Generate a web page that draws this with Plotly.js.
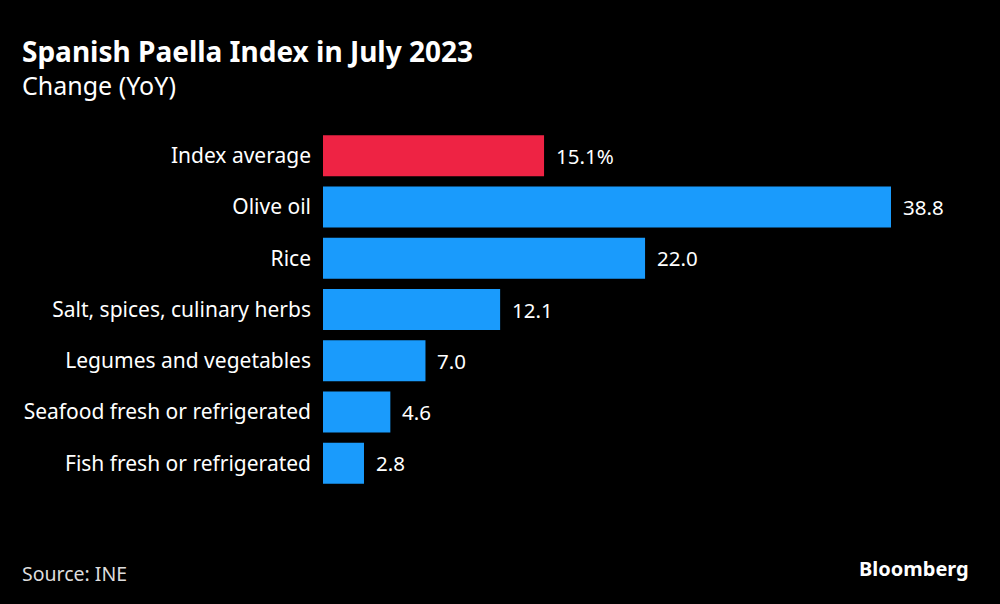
<!DOCTYPE html>
<html>
<head>
<meta charset="utf-8">
<script src="https://cdn.plot.ly/plotly-3.0.1.min.js"></script>
<style>html,body{margin:0;padding:0;background:#000;}#chart{width:1000px;height:604px;}</style>
</head>
<body>
<div id="chart"></div>
<script>
const categories = ["Index average","Olive oil","Rice","Salt, spices, culinary herbs","Legumes and vegetables","Seafood fresh or refrigerated","Fish fresh or refrigerated"];
const values = [15.1, 38.8, 22.0, 12.1, 7.0, 4.6, 2.8];
const valueLabels = ["15.1%","38.8","22.0","12.1","7.0","4.6","2.8"];
const barColors = ["#EE2344","#1A9BFC","#1A9BFC","#1A9BFC","#1A9BFC","#1A9BFC","#1A9BFC"];

const W = 1000, H = 604;
const plotL = 323, plotR = 891, plotT = 130, plotB = 489;
const FONT = "'Noto Sans', 'Open Sans', sans-serif";
const px = x => (x - plotL) / (plotR - plotL);
const py = y => (plotB - y) / (plotB - plotT);

const trace = {
  type: 'bar', orientation: 'h',
  x: values, y: categories,
  marker: {color: barColors, line: {width: 0}},
  hoverinfo: 'skip'
};

const annotations = values.map((v, i) => ({
  x: v, y: categories[i], xref: 'x', yref: 'y',
  text: valueLabels[i], showarrow: false,
  xanchor: 'left', xshift: 10,
  font: {family: FONT, size: 20.5, color: '#FFFFFF'}
}));

annotations.push(
  {xref: 'paper', yref: 'paper', x: px(20), y: py(30), xanchor: 'left', yanchor: 'top', align: 'left',
   text: "<span style='font-size:28px'><b>Spanish Paella Index in July 2023</b></span><br>Change (YoY)",
   showarrow: false,
   font: {family: FONT, size: 25, color: '#FFFFFF'}},
  {xref: 'paper', yref: 'paper', x: px(20), y: py(558), xanchor: 'left', yanchor: 'top',
   text: 'Source: INE', showarrow: false,
   font: {family: FONT, size: 19.5, color: '#DDDDDD'}},
  {xref: 'paper', yref: 'paper', x: px(971), y: py(553), xanchor: 'right', yanchor: 'top',
   text: '<b>Bloomberg</b>', showarrow: false,
   font: {family: FONT, size: 20, color: '#FFFFFF'}}
);

const layout = {
  width: W, height: H,
  paper_bgcolor: '#000000', plot_bgcolor: '#000000',
  margin: {l: plotL, r: W - plotR, t: plotT, b: H - plotB, pad: 0},
  showlegend: false,
  bargap: 0.2,
  font: {family: FONT, color: '#FFFFFF'},
  xaxis: {range: [0, 38.8], visible: false, fixedrange: true},
  yaxis: {autorange: 'reversed', showgrid: false, zeroline: false, showline: false,
          ticks: '', ticklabelstandoff: 11,
          tickfont: {family: FONT, size: 21, color: '#FFFFFF'}, fixedrange: true},
  annotations: annotations
};

Plotly.newPlot('chart', [trace], layout, {displayModeBar: false, staticPlot: true});
</script>
</body>
</html>
